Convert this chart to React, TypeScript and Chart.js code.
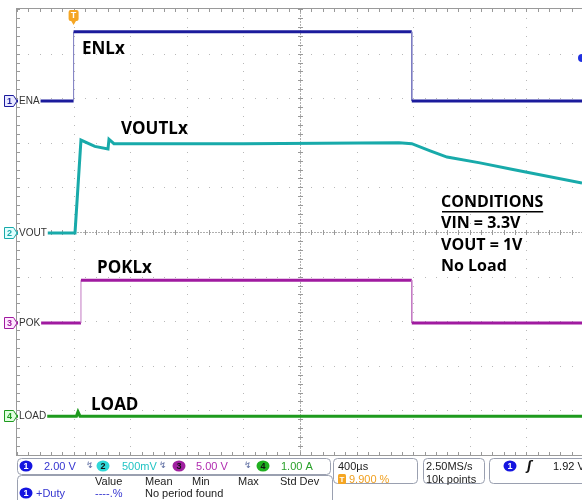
import React, { useEffect, useRef } from "react";
import { Chart, registerables } from "chart.js";

Chart.register(...registerables);

// Time axis in microseconds (400 µs/div, trigger at t = 0)
const timeMin = -400;
const timeMax = 3593;
const timePerDiv = 400;

// Channel 1 – ENA (V)
const enaTime = [-400, 0, 0, 2390, 2390, 3593];
const enaVolts = [0, 0, 3.1, 3.1, 0, 0];

// Channel 2 – VOUT (V)
const voutTime = [-400, 10, 52, 150, 243, 250, 285, 1200, 2300, 2390, 2520, 2639, 2872, 3105, 3593];
const voutVolts = [0, 0, 1.04, 0.97, 0.94, 1.05, 1.0, 1.0, 1.01, 1.0, 0.92, 0.85, 0.785, 0.71, 0.56];

// Channel 3 – POK (V)
const pokTime = [-400, 52, 52, 2390, 2390, 3593];
const pokVolts = [0, 0, 4.8, 4.8, 0, 0];

// Channel 4 – LOAD (A)
const loadTime = [-400, 20, 31, 45, 3593];
const loadAmps = [0, 0, 0.1, 0, 0];

const triggerLevel = 1.92;

const scopeLabels = ["ENLx", "VOUTLx", "POKLx", "LOAD"];
const conditionLines = ["CONDITIONS", "VIN = 3.3V", "VOUT = 1V", "No Load"];
const channelNames = ["ENA", "VOUT", "POK", "LOAD"];
const channelScales = ["2.00 V", "500mV", "5.00 V", "1.00 A"];

const C1 = "#1b1b9c";
const C2 = "#18aaaa";
const C3 = "#a01aa0";
const C4 = "#1e9a1e";

function pts(t: number[], v: number[]) {
  return t.map((x, i) => ({ x, y: v[i] }));
}

function rrect(ctx: CanvasRenderingContext2D, x: number, y: number, w: number, h: number, r: number) {
  ctx.beginPath();
  ctx.moveTo(x + r, y);
  ctx.lineTo(x + w - r, y);
  ctx.quadraticCurveTo(x + w, y, x + w, y + r);
  ctx.lineTo(x + w, y + h - r);
  ctx.quadraticCurveTo(x + w, y + h, x + w - r, y + h);
  ctx.lineTo(x + r, y + h);
  ctx.quadraticCurveTo(x, y + h, x, y + h - r);
  ctx.lineTo(x, y + r);
  ctx.quadraticCurveTo(x, y, x + r, y);
  ctx.closePath();
}

const gridPlugin = {
  id: "scopeGrid",
  beforeDatasetsDraw(chart: any) {
    const ctx: CanvasRenderingContext2D = chart.ctx;
    const xs = chart.scales.x;
    const ys = chart.scales.y;
    const { left, right, top, bottom } = chart.chartArea;
    ctx.save();
    ctx.fillStyle = "#b8b8b8";
    for (let i = 1; i <= 9; i++) {
      const px = Math.round(xs.getPixelForValue(timeMin + timePerDiv * i));
      for (let j = 0; j <= 50; j++) {
        const py = Math.round(ys.getPixelForValue(-5 + j * 0.2));
        ctx.fillRect(px, py, 1, 1);
      }
    }
    for (let i = 1; i <= 9; i++) {
      const py = Math.round(ys.getPixelForValue(-5 + i));
      for (let j = 0; j <= 50; j++) {
        const px = Math.round(xs.getPixelForValue(timeMin + j * timePerDiv / 5));
        if (px <= right) ctx.fillRect(px, py, 1, 1);
      }
    }
    const cx = Math.round(xs.getPixelForValue(timeMin + 5 * timePerDiv));
    const cy = Math.round(ys.getPixelForValue(0));
    ctx.fillStyle = "#b0b0b0";
    for (let px = left; px <= right; px += 3) ctx.fillRect(px, cy, 2, 1);
    for (let py = top; py <= bottom; py += 3) ctx.fillRect(cx, py, 1, 2);
    ctx.fillStyle = "#999";
    for (let j = 0; j <= 50; j++) {
      const px = Math.round(xs.getPixelForValue(timeMin + j * timePerDiv / 5));
      ctx.fillRect(px, cy - 2, 1, 5);
      ctx.fillRect(px, top, 1, 3);
      ctx.fillRect(px, bottom - 3, 1, 3);
      const py = Math.round(ys.getPixelForValue(-5 + j * 0.2));
      ctx.fillRect(cx - 2, py, 5, 1);
      ctx.fillRect(left, py, 3, 1);
    }
    ctx.fillStyle = "#9a9a9a";
    ctx.fillRect(left - 1, top - 1, right - left + 2, 1);
    ctx.fillRect(left - 1, bottom, right - left + 2, 1);
    ctx.fillRect(left - 1, top - 1, 1, bottom - top + 2);
    ctx.restore();
  },
  afterDraw(chart: any) {
    const ctx: CanvasRenderingContext2D = chart.ctx;
    const xs = chart.scales.x;
    ctx.save();

    const axes = ["y1", "y2", "y3", "y4"];
    const cols = [C1, C2, C3, C4];
    const fills = ["#e8e8ff", "#e0ffff", "#ffe8ff", "#e0ffe0"];
    axes.forEach((a, i) => {
      const py = Math.round(chart.scales[a].getPixelForValue(0));
      ctx.font = "10px 'Liberation Sans'";
      const w = ctx.measureText(channelNames[i]).width;
      ctx.fillStyle = "#fff";
      ctx.fillRect(18, py - 5, w + 2, 10);
      ctx.fillStyle = fills[i];
      ctx.strokeStyle = cols[i];
      ctx.lineWidth = 1;
      ctx.beginPath();
      ctx.moveTo(4.5, py - 5.5);
      ctx.lineTo(13.5, py - 5.5);
      ctx.lineTo(17, py);
      ctx.lineTo(13.5, py + 5.5);
      ctx.lineTo(4.5, py + 5.5);
      ctx.closePath();
      ctx.fill();
      ctx.stroke();
      ctx.fillStyle = cols[i];
      ctx.font = "bold 9px 'Liberation Sans'";
      ctx.textAlign = "center";
      ctx.textBaseline = "middle";
      ctx.fillText(String(i + 1), 9.5, py + 0.5);
      ctx.textAlign = "left";
      ctx.fillStyle = "#333";
      ctx.font = "10px 'Liberation Sans'";
      ctx.fillText(channelNames[i], 19, py + 0.5);
    });

    const tx = xs.getPixelForValue(0);
    ctx.fillStyle = "#f5a623";
    rrect(ctx, tx - 5, 10, 10, 11, 2);
    ctx.fill();
    ctx.beginPath();
    ctx.moveTo(tx - 3, 20);
    ctx.lineTo(tx + 3, 20);
    ctx.lineTo(tx, 25);
    ctx.closePath();
    ctx.fill();
    ctx.fillStyle = "#fff";
    ctx.font = "bold 9px 'Liberation Sans'";
    ctx.textAlign = "center";
    ctx.textBaseline = "middle";
    ctx.fillText("T", tx, 16);

    const ly = chart.scales.y1.getPixelForValue(triggerLevel);
    ctx.fillStyle = "#2030e0";
    ctx.beginPath();
    ctx.arc(582, ly, 4, 0, Math.PI * 2);
    ctx.fill();

    ctx.fillStyle = "#000";
    ctx.textAlign = "left";
    ctx.textBaseline = "middle";
    ctx.font = "bold 17px 'Open Sans'";
    ctx.fillText(scopeLabels[0], 82, 49);
    ctx.fillText(scopeLabels[1], 121, 129);
    ctx.fillText(scopeLabels[2], 97, 268);
    ctx.fillText(scopeLabels[3], 91, 405);
    ctx.font = "bold 16px 'Open Sans'";
    conditionLines.forEach((t, i) => {
      const y = [202, 223, 245, 266][i];
      ctx.fillText(t, 441, y);
      if (i === 0) {
        const w = ctx.measureText(t).width;
        ctx.fillRect(442, 211, w - 1, 1.5);
      }
    });

    // status bar
    ctx.fillStyle = "#fff";
    ctx.fillRect(0, 456, 582, 44);
    ctx.strokeStyle = "#9aa0b0";
    ctx.lineWidth = 1;
    rrect(ctx, 17.5, 458.5, 313, 16, 4);
    ctx.stroke();
    rrect(ctx, 17.5, 475.5, 315, 30, 4);
    ctx.stroke();
    rrect(ctx, 333.5, 458.5, 84, 25, 4);
    ctx.stroke();
    rrect(ctx, 423.5, 458.5, 61, 25, 4);
    ctx.stroke();
    rrect(ctx, 489.5, 458.5, 100, 25, 4);
    ctx.stroke();

    const badge = (cx: number, cy: number, fill: string, num: string, txt: string) => {
      ctx.fillStyle = fill;
      ctx.beginPath();
      ctx.ellipse(cx, cy, 6.5, 5.5, 0, 0, Math.PI * 2);
      ctx.fill();
      ctx.fillStyle = txt;
      ctx.font = "bold 9px 'Liberation Sans'";
      ctx.textAlign = "center";
      ctx.textBaseline = "middle";
      ctx.fillText(num, cx, cy + 0.5);
      ctx.textAlign = "left";
    };
    const scaleCols = ["#3535d0", "#22c4c4", "#b02cb0", "#2aa02a"];
    const badgeCols = ["#1515e0", "#30d8d8", "#a020a0", "#20b020"];
    const badgeX = [26, 103, 179, 263];
    const scaleX = [44, 122, 196, 281];
    const bwX = [86, 159, 244];
    for (let i = 0; i < 4; i++) {
      badge(badgeX[i], 466, badgeCols[i], String(i + 1), i === 0 ? "#fff" : "#111");
      ctx.fillStyle = scaleCols[i];
      ctx.font = "11px 'Liberation Sans'";
      ctx.textBaseline = "middle";
      ctx.fillText(channelScales[i], scaleX[i], 466.5);
      if (i < 3) {
        ctx.fillStyle = "#5a6aa0";
        ctx.font = "9px 'DejaVu Sans'";
        ctx.fillText("↯", bwX[i], 466);
      }
    }
    ctx.fillStyle = "#222";
    ctx.font = "11px 'Liberation Sans'";
    ctx.fillText("Value", 95, 481.5);
    ctx.fillText("Mean", 145, 481.5);
    ctx.fillText("Min", 192, 481.5);
    ctx.fillText("Max", 238, 481.5);
    ctx.fillText("Std Dev", 280, 481.5);
    badge(26, 493, "#1515e0", "1", "#fff");
    ctx.font = "11px 'Liberation Sans'";
    ctx.fillStyle = "#3535d0";
    ctx.fillText("+Duty", 36, 493.5);
    ctx.fillText("----.%", 95, 493.5);
    ctx.fillStyle = "#222";
    ctx.fillText("No period found", 145, 493.5);

    ctx.fillText("400µs", 338, 466.5);
    ctx.fillStyle = "#f5a623";
    rrect(ctx, 338, 474, 8, 10, 1.5);
    ctx.fill();
    ctx.fillStyle = "#fff";
    ctx.font = "bold 8px 'Liberation Sans'";
    ctx.textAlign = "center";
    ctx.fillText("T", 342, 479.5);
    ctx.textAlign = "left";
    ctx.fillStyle = "#f0a020";
    ctx.font = "11px 'Liberation Sans'";
    ctx.fillText("9.900 %", 349, 479.5);

    ctx.fillStyle = "#222";
    ctx.fillText("2.50MS/s", 426, 466.5);
    ctx.fillText("10k points", 426, 479.5);

    badge(510, 466, "#1515e0", "1", "#fff");
    ctx.fillStyle = "#111";
    ctx.font = "italic bold 12px 'DejaVu Sans'";
    ctx.fillText("ʃ", 527, 466.5);
    ctx.font = "11px 'Liberation Sans'";
    ctx.fillText("1.92 V", 553, 466.5);

    ctx.restore();
  },
};

export default function App() {
  const ref = useRef<HTMLCanvasElement>(null);
  useEffect(() => {
    document.body.style.margin = "0";
    const canvas = ref.current;
    if (!canvas) return;
    const seg = (col: string, light: string) => ({
      borderWidth: (c: any) => (c.p0.parsed.x === c.p1.parsed.x ? 1 : 3),
      borderColor: (c: any) => (c.p0.parsed.x === c.p1.parsed.x ? light : col),
    });
    const mk = (data: any[], col: string, light: string, axis: string) => ({
      data,
      yAxisID: axis,
      borderColor: col,
      borderWidth: 3,
      pointRadius: 0,
      tension: 0,
      fill: false,
      segment: seg(col, light),
    });
    const chart = new Chart(canvas, {
      type: "line",
      data: {
        datasets: [
          mk(pts(loadTime, loadAmps), C4, "#7cc87c", "y4"),
          mk(pts(pokTime, pokVolts), C3, "#c27ac2", "y3"),
          mk(pts(voutTime, voutVolts), C2, "#40b8b8", "y2"),
          mk(pts(enaTime, enaVolts), C1, "#7a7ac0", "y1"),
        ] as any,
      },
      options: {
        responsive: false,
        animation: false,
        maintainAspectRatio: false,
        layout: { padding: { left: 17, top: 9, right: 0, bottom: 45 } },
        plugins: { legend: { display: false }, tooltip: { enabled: false } },
        scales: {
          x: { type: "linear", min: timeMin, max: timeMax, display: false },
          y: { type: "linear", min: -5, max: 5, display: false },
          y1: { type: "linear", min: -15.88, max: 4.12, display: false },
          y2: { type: "linear", min: -2.49, max: 2.51, display: false },
          y3: { type: "linear", min: -14.8, max: 35.2, display: false },
          y4: { type: "linear", min: -0.87, max: 9.13, display: false },
        },
      } as any,
      plugins: [gridPlugin],
    });
    return () => chart.destroy();
  }, []);
  return (
    <div style={{ width: 582, height: 500, overflow: "hidden", background: "#fff" }}>
      <canvas ref={ref} width={582} height={500} style={{ display: "block" }} />
    </div>
  );
}
